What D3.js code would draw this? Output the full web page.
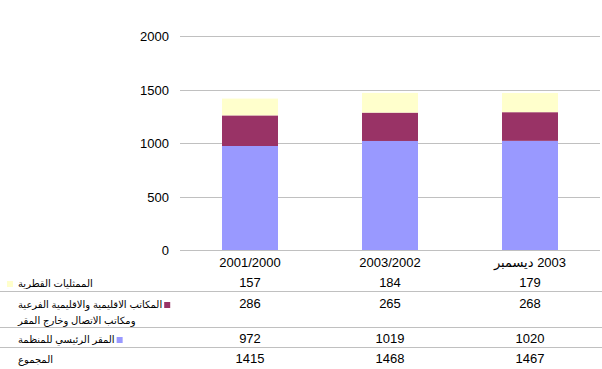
<!DOCTYPE html>
<html><head><meta charset="utf-8">
<script src="https://cdn.jsdelivr.net/npm/d3@7"></script>
<style>
html,body{margin:0;padding:0;background:#fff;}
svg{display:block;font-family:"Liberation Sans","DejaVu Sans",Arial,sans-serif;}
</style></head>
<body><svg id="c" width="602" height="369"></svg>
<script>
const categories = ["2001/2000", "2003/2002", "ديسمبر\u200E 2003"];
const seriesNames = ["الممثليات القطرية", "المكاتب الاقليمية والاقليمية الفرعية|ومكاتب الاتصال وخارج المقر", "المقر الرئيسي للمنظمة"];
const countryOffices = [157, 184, 179];
const regionalOffices = [286, 265, 268];
const headquarters = [972, 1019, 1020];
const totals = [1415, 1468, 1467];
const totalLabel = "المجموع";
const yTicks = [0, 500, 1000, 1500, 2000];
const colors = ["#FFFFCC", "#993366", "#9999FF"];

const svg = d3.select("#c");
const x = d3.scaleBand().domain(categories).range([180, 600]).padding(0);
const y = d3.scaleLinear().domain([0, 2000]).range([250, 36]);
const barW = x.bandwidth() * 0.4;

svg.append("g").selectAll("line").data(yTicks).join("line")
  .attr("x1", 180).attr("x2", 600)
  .attr("y1", d => Math.round(y(d)) + 0.5).attr("y2", d => Math.round(y(d)) + 0.5)
  .attr("stroke", "#C0C0C0").attr("stroke-width", 1);

svg.append("g").selectAll("text").data(yTicks).join("text")
  .attr("x", 169).attr("y", d => y(d) + 5)
  .attr("text-anchor", "end").attr("font-size", 13).attr("fill", "#000")
  .text(d => d);

const rows = categories.map((c, i) => ({cat: c, hq: headquarters[i], reg: regionalOffices[i], cty: countryOffices[i]}));
const stack = d3.stack().keys(["hq", "reg", "cty"])(rows);
const colorByKey = {hq: colors[2], reg: colors[1], cty: colors[0]};
svg.append("g").selectAll("g").data(stack).join("g")
  .attr("fill", s => colorByKey[s.key])
  .selectAll("rect").data(s => s).join("rect")
  .attr("x", d => x(d.data.cat) + (x.bandwidth() - barW) / 2)
  .attr("width", barW)
  .attr("y", d => y(d[1]))
  .attr("height", d => y(d[0]) - y(d[1]));

svg.append("line").attr("x1", 180).attr("x2", 600).attr("y1", 250.5).attr("y2", 250.5)
  .attr("stroke", "#C0C0C0");

svg.append("g").selectAll("text").data(categories).join("text")
  .attr("x", d => x(d) + x.bandwidth() / 2).attr("y", 267)
  .attr("text-anchor", "middle").attr("font-size", 13)
  .text(d => d);

[291, 327, 347].forEach(yy => {
  svg.append("line").attr("x1", 0).attr("x2", 602).attr("y1", yy + 0.5).attr("y2", yy + 0.5)
    .attr("stroke", "#C0C0C0");
});

const tableRows = [
  {name: seriesNames[0], vals: countryOffices, base: 287, color: colors[0], sw: "before"},
  {name: seriesNames[1], vals: regionalOffices, base: 308, color: colors[1], sw: "after"},
  {name: seriesNames[2], vals: headquarters, base: 343, color: colors[2], sw: "after"},
  {name: totalLabel, vals: totals, base: 363, color: null, sw: null}
];

tableRows.forEach(r => {
  const lines = r.name.split("|");
  const g = svg.append("g");
  const t = g.selectAll("text.lab").data(lines).join("text")
    .attr("class", "lab")
    .attr("x", 18).attr("y", (d, j) => r.base + j * 16)
    .attr("font-size", 10).attr("text-anchor", "start")
    .text(d => d);
  if (r.color) {
    let sx = 7;
    if (r.sw === "after") {
      const bb = t.nodes()[0].getBBox();
      sx = bb.x + bb.width + 2;
    }
    g.append("rect").attr("x", sx).attr("y", r.base - 6).attr("width", 6).attr("height", 6)
      .attr("fill", r.color);
  }
  svg.append("g").selectAll("text").data(r.vals).join("text")
    .attr("x", (d, i) => x(categories[i]) + x.bandwidth() / 2).attr("y", r.base)
    .attr("text-anchor", "middle").attr("font-size", 13)
    .text(d => d);
});
</script></body></html>
